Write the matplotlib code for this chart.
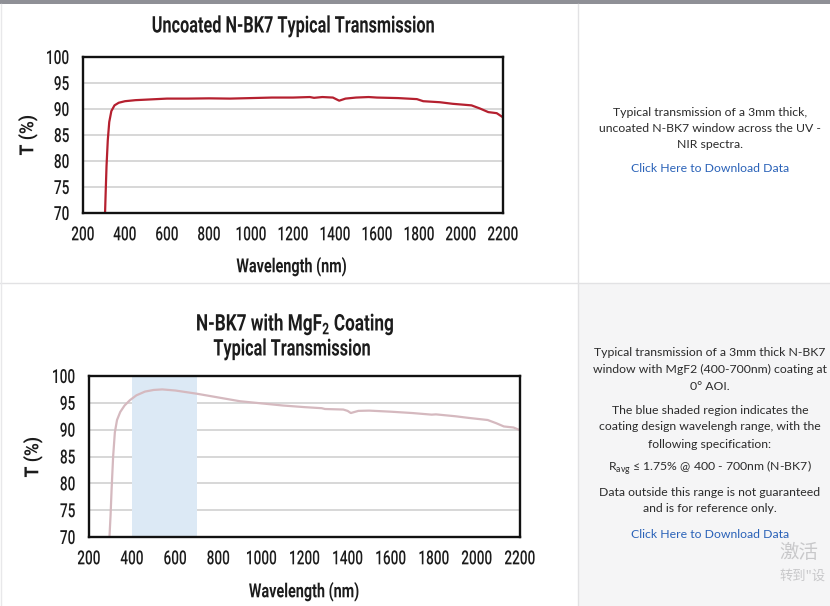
import matplotlib
matplotlib.use("Agg")
import matplotlib.pyplot as plt
from matplotlib.patches import Rectangle
from matplotlib.patheffects import AbstractPathEffect
from matplotlib.transforms import Affine2D

W, H = 830, 606
NARROW = ["Roboto", "DejaVu Sans"]
BODY = ["Lato", "DejaVu Sans"]
INK = "#1c1c1c"

x_ticks = [200, 400, 600, 800, 1000, 1200, 1400, 1600, 1800, 2000, 2200]
y_ticks = [70, 75, 80, 85, 90, 95, 100]

wl1 = [305, 308, 312, 318, 325, 335, 350, 370, 400, 450, 500, 600, 700, 800, 900, 1000, 1100, 1200, 1280, 1300,
       1340, 1390, 1420, 1450, 1500, 1560, 1600, 1700, 1790, 1820, 1900, 1960, 2050, 2090, 2130, 2170, 2200]
t1 = [70, 74, 79, 84, 87.5, 89.6, 90.7, 91.2, 91.5, 91.7, 91.8, 92.0, 92.0, 92.05, 92.0, 92.1, 92.2, 92.2, 92.3, 92.15,
      92.3, 92.2, 91.6, 92.0, 92.2, 92.3, 92.2, 92.1, 91.9, 91.5, 91.3, 91.0, 90.7, 90.1, 89.4, 89.2, 88.4]

wl2 = [295, 300, 305, 312, 320, 330, 345, 365, 390, 420, 460, 500, 540, 600, 700, 800, 900, 1000, 1100, 1200, 1280, 1295,
       1380, 1400, 1415, 1450, 1500, 1600, 1700, 1790, 1810, 1900, 1960, 2050, 2090, 2125, 2170, 2200]
t2 = [70, 74, 79, 85, 89.5, 91.8, 93.3, 94.5, 95.5, 96.4, 97.1, 97.4, 97.5, 97.3, 96.7, 96.0, 95.3, 94.9, 94.5, 94.2, 94.0, 93.85,
      93.75, 93.5, 93.1, 93.5, 93.55, 93.35, 93.1, 92.8, 92.85, 92.5, 92.2, 91.8, 91.2, 90.6, 90.4, 89.9]

band = [400, 700]


class Narrow(AbstractPathEffect):
    """Squeeze a text horizontally in its own frame; it stays a Text artist."""

    def __init__(self, sx, anchor="center"):
        super().__init__()
        self.sx, self.anchor = sx, anchor

    def draw_path(self, renderer, gc, tpath, affine, rgbFace=None):
        ext = tpath.get_extents()
        c = ext.x1 if self.anchor == "right" else (ext.x0 + ext.x1) / 2
        a = Affine2D().translate(-c, 0).scale(self.sx, 1).translate(c, 0) + affine
        renderer.draw_path(gc, tpath, a, rgbFace)


fig = plt.figure(figsize=(W / 100, H / 100), dpi=100, facecolor="white")
bg = fig.add_axes([0, 0, 1, 1], zorder=0)
bg.set_xlim(0, W); bg.set_ylim(H, 0); bg.axis("off")
bg.add_patch(Rectangle((0, 0), W, 4, color="#8f9096", lw=0))
bg.add_patch(Rectangle((578, 283), 252, 323, color="#f5f5f6", lw=0))
bg.plot([0, W], [282.5, 282.5], color="#e2e2e4", lw=1)
bg.plot([578, 578], [4, H], color="#e2e2e4", lw=1)
bg.plot([1, 1], [4, H], color="#e8e8ea", lw=1)


def head(x, y, s, size=16.5, sx=0.71, rotation=0):
    return bg.text(x, y, s, rotation=rotation, ha="center", va="center", family=NARROW, fontweight="bold",
                   fontsize=size, color=INK, path_effects=[Narrow(sx)])


def panel(box, wl, t, color, lab_y, ylab_x, ylab_y):
    l, r, top, bot = box
    ax = fig.add_axes([l / W, 1 - bot / H, (r - l) / W, (bot - top) / H], zorder=2)
    ax.set_xlim(200, 2200); ax.set_ylim(70, 100)
    ax.set_xticks(x_ticks); ax.set_yticks(y_ticks)
    ax.grid(axis="y", color="#d4d4d4", lw=1.3)
    ax.set_axisbelow(True)
    ax.plot(wl, t, color=color, lw=1.6, solid_joinstyle="round", zorder=3)
    ax.tick_params(axis="x", length=0, pad=9.6, labelsize=14)
    ax.tick_params(axis="y", length=0, pad=9.6, labelsize=14)
    for lb in ax.get_xticklabels():
        lb.set_family(NARROW); lb.set_color(INK); lb.set_fontweight("medium")
        lb.set_path_effects([Narrow(0.70)])
    for lb in ax.get_yticklabels():
        lb.set_family(NARROW); lb.set_color(INK); lb.set_fontweight("medium")
        lb.set_path_effects([Narrow(0.70, "right")])
    for s in ax.spines.values():
        s.set_linewidth(1.7); s.set_color("#111111"); s.set_zorder(5)
    head((l + r) / 2 + (-1 if l < 85 else 0), lab_y, "Wavelength (nm)", 14, 0.74)
    head(ylab_x, ylab_y, "T (%)", 14, 0.9, rotation=90)
    return ax


panel((83, 503, 57, 213), wl1, t1, "#b5202f", 267, 28, 135)
head(293, 26, "Uncoated N-BK7 Typical Transmission")

ax2 = panel((89, 520, 376, 537), wl2, t2, "#d5b9bf", 592, 33, 457)
ax2.axvspan(band[0], band[1], color="#dce9f5", lw=0, zorder=1)
head(295, 324, r"N-BK7 with MgF$_{\mathregular{2}}$ Coating", sx=0.75)
head(292, 349, "Typical Transmission")


def body(y, s, color="#2b2b2b", x=710):
    bg.text(x, y, s, ha="center", va="center", family=BODY, fontsize=8.85, color=color)


LINK = "#2a62b8"
body(112, "Typical transmission of a 3mm thick,")
body(128, "uncoated N-BK7 window across the UV -")
body(145, "NIR spectra.")
body(169, "Click Here to Download Data", LINK)
body(352, "Typical transmission of a 3mm thick N-BK7")
body(369, "window with MgF2 (400-700nm) coating at")
body(386, "0° AOI.")
body(410, "The blue shaded region indicates the")
body(427, "coating design wavelengh range, with the")
body(444, "following specification:")
body(468, r"R$_{\mathregular{avg}}$ ≤ 1.75% @ 400 - 700nm (N-BK7)")
body(492, "Data outside this range is not guaranteed")
body(509, "and is for reference only.")
body(534, "Click Here to Download Data", LINK)
CJK = ["Noto Sans CJK SC", "DejaVu Sans"]
bg.text(779, 552, "激活", ha="left", va="center", family=CJK, fontsize=14, color="#c8c8ca")
bg.text(779, 576, "转到\"设", ha="left", va="center", family=CJK, fontsize=9.5, color="#c8c8ca")

fig.savefig("out.png", dpi=100)
